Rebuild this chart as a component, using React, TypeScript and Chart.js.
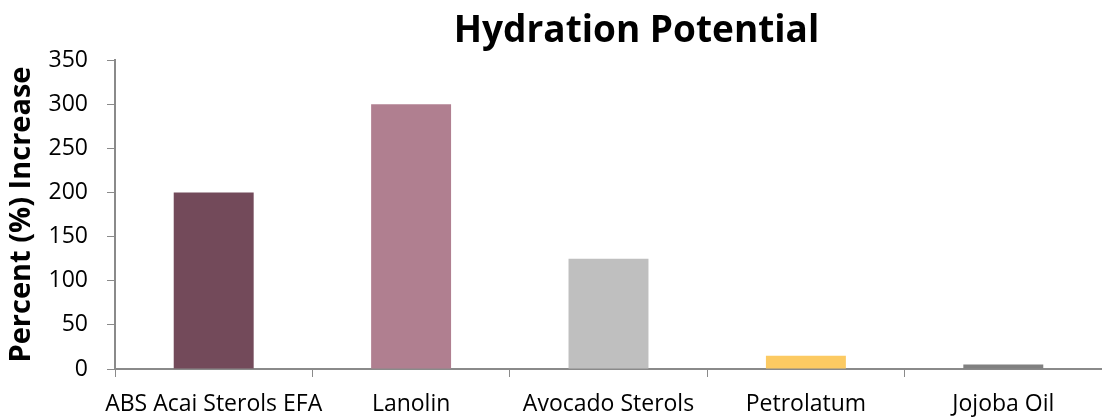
import React, { useEffect, useRef } from "react";
import { Chart, registerables } from "chart.js";

Chart.register(...registerables);

const categories = ["ABS Acai Sterols EFA", "Lanolin", "Avocado Sterols", "Petrolatum", "Jojoba Oil"];
const values = [200, 300, 125, 15, 5];
const barColors = ["#734A5A", "#B07F90", "#BFBFBF", "#FCCA62", "#808080"];
const yTicks = [0, 50, 100, 150, 200, 250, 300, 350];
const titleText = "Hydration Potential";
const yTitle = "Percent (%) Increase";

const FONT = "'Open Sans', 'Liberation Sans', sans-serif";
const AXIS = "#8A8A8A";

const titlePlugin = {
  id: "customTitle",
  afterDraw(chart: any) {
    const { ctx, chartArea } = chart;
    ctx.save();
    ctx.font = `bold 37px ${FONT}`;
    ctx.fillStyle = "#000";
    ctx.textAlign = "center";
    ctx.textBaseline = "alphabetic";
    const cx = (chartArea.left + chartArea.right) / 2 + 28;
    ctx.fillText(titleText, cx, 42);
    ctx.restore();
  },
};

export default function App() {
  const ref = useRef<HTMLCanvasElement | null>(null);
  useEffect(() => {
    document.body.style.margin = "0";
    const chart = new Chart(ref.current as HTMLCanvasElement, {
      type: "bar",
      data: {
        labels: categories,
        datasets: [
          {
            data: values,
            backgroundColor: barColors,
            borderWidth: 0,
            barPercentage: 0.405,
            categoryPercentage: 1,
          },
        ],
      },
      options: {
        animation: false,
        responsive: false,
        maintainAspectRatio: false,
        layout: { padding: { top: 60, right: 0, bottom: 0, left: 0 } },
        plugins: {
          legend: { display: false },
          title: { display: false },
          tooltip: { enabled: false },
        },
        scales: {
          x: {
            offset: true,
            grid: {
              display: true,
              drawOnChartArea: false,
              drawTicks: true,
              tickLength: 8,
              color: AXIS,
              offset: true,
            },
            border: { display: true, color: AXIS, width: 2 },
            ticks: {
              color: "#000",
              font: { family: FONT, size: 23 },
              padding: 14,
              maxRotation: 0,
              autoSkip: false,
            },
            afterFit: (axis: any) => {
              axis.height = 48;
            },
          },
          y: {
            min: 0,
            max: 350,
            afterBuildTicks: (axis: any) => {
              axis.ticks = yTicks.map((v) => ({ value: v }));
            },
            grid: {
              display: true,
              drawOnChartArea: false,
              drawTicks: true,
              tickLength: 8,
              color: AXIS,
            },
            border: { display: true, color: AXIS, width: 2 },
            ticks: {
              color: "#000",
              font: { family: FONT, size: 23 },
              padding: 19,
            },
            title: {
              display: true,
              text: yTitle,
              color: "#000",
              font: { family: FONT, size: 29, weight: "bold" },
              padding: { top: 4, bottom: 0 },
            },
            afterFit: (axis: any) => {
              axis.width = 115;
            },
          },
        },
      },
      plugins: [titlePlugin],
    });
    return () => chart.destroy();
  }, []);
  return (
    <div style={{ position: "absolute", left: 0, top: 0, width: 1102, height: 417, background: "#fff" }}>
      <canvas ref={ref} width={1102} height={417} style={{ width: 1102, height: 417, display: "block" }} />
    </div>
  );
}
